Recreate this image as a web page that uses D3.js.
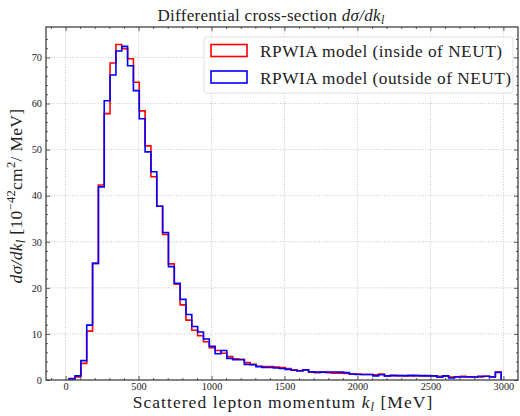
<!DOCTYPE html>
<html>
<head>
<meta charset="utf-8">
<script src="https://cdn.jsdelivr.net/npm/d3@7"></script>
<style>
  html, body { margin: 0; padding: 0; background: #fff; }
  svg { display: block; }
  text { font-family: "Liberation Serif", "DejaVu Serif", serif; fill: #222; }
</style>
</head>
<body>
<svg id="chart" width="520" height="416"></svg>
<script>
// Histogram bin edges of the scattered lepton momentum (MeV)
const binEdges = [
  25, 65, 105, 145, 185, 225, 265, 305, 345, 385,
  425, 465, 505, 545, 585, 625, 665, 705, 745, 785,
  825, 865, 905, 945, 985, 1025, 1065, 1105, 1145, 1185,
  1225, 1265, 1305, 1345, 1385, 1425, 1465, 1505, 1545, 1585,
  1625, 1665, 1705, 1745, 1785, 1825, 1865, 1905, 1945, 1985,
  2025, 2065, 2105, 2145, 2185, 2225, 2265, 2305, 2345, 2385,
  2425, 2465, 2505, 2545, 2585, 2625, 2665, 2705, 2745, 2785,
  2825, 2865, 2905, 2945, 2985
];

// dσ/dk_l per bin, 10^-42 cm^2 / MeV — RPWIA computed inside NEUT
const insideNeut = [
  0.2, 0.65, 3.6, 10.6, 25.3, 42.3, 57.8, 68.8, 72.8, 71.9,
  69.7, 64.6, 58.4, 50.8, 44.1, 37.7, 31.6, 25.2, 20.8, 16.3,
  13.0, 10.8, 9.6, 8.3, 7.0, 6.4, 5.8, 5.1, 4.6, 4.5,
  3.8, 3.4, 3.0, 2.9, 2.9, 2.8, 2.7, 2.5, 2.2, 1.95,
  2.2, 1.7, 1.6, 1.7, 1.6, 1.5, 1.45, 1.4, 1.3, 1.3,
  1.2, 1.2, 1.15, 1.3, 0.9, 1.0, 0.95, 0.9, 0.9, 0.95,
  0.9, 0.95, 0.9, 0.8, 0.8, 0.65, 0.7, 0.8, 0.7, 0.65,
  0.65, 0.8, 0.7, 1.75
];

// RPWIA computed outside NEUT
const outsideNeut = [
  0.3, 0.9, 4.2, 11.9, 25.3, 41.9, 60.6, 66.2, 71.4, 72.4,
  68.2, 62.8, 56.7, 49.5, 45.2, 37.7, 32.0, 24.6, 21.0, 17.5,
  14.2, 11.6, 10.4, 8.9, 7.3, 5.7, 6.4, 4.7, 4.4, 4.4,
  3.4, 3.3, 2.9, 2.7, 2.7, 2.6, 2.5, 2.3, 2.1, 2.0,
  2.2, 1.8, 1.7, 1.7, 1.75, 1.75, 1.7, 1.6, 1.3, 1.2,
  1.2, 1.2, 0.9, 1.15, 0.9, 0.95, 0.95, 0.95, 1.0, 0.95,
  0.95, 0.9, 0.9, 0.6, 0.9, 0.45, 0.65, 0.65, 0.65, 0.65,
  0.8, 0.8, 0.65, 1.65
];

const xTicks = [0, 500, 1000, 1500, 2000, 2500, 3000];
const yTicks = [0, 10, 20, 30, 40, 50, 60, 70];
const seriesNames = ["RPWIA model (inside of NEUT)", "RPWIA model (outside of NEUT)"];
const seriesColors = ["#ff0000", "#0000ff"];

const svg = d3.select("#chart");
const margin = { left: 46, right: 2, top: 27, bottom: 36 };
const W = 520, H = 416;
const x0 = margin.left, x1 = W - margin.right, y0 = H - margin.bottom, y1 = margin.top;

const x = d3.scaleLinear().domain([-134, 3100]).range([x0, x1]);
const y = d3.scaleLinear().domain([0, 76.6]).range([y0, y1]);

// grid
const grid = svg.append("g").attr("stroke", "#b8b8b8").attr("stroke-width", 0.8)
  .attr("stroke-dasharray", "1,1.6");
grid.selectAll("line.gx").data(xTicks).join("line")
  .attr("x1", d => x(d)).attr("x2", d => x(d)).attr("y1", y0).attr("y2", y1);
grid.selectAll("line.gy").data(yTicks.slice(1)).join("line")
  .attr("x1", x0).attr("x2", x1).attr("y1", d => y(d)).attr("y2", d => y(d));

// step histograms
function stepPoints(edges, vals) {
  const pts = [[edges[0], 0]];
  vals.forEach((v, i) => { pts.push([edges[i], v]); pts.push([edges[i + 1], v]); });
  pts.push([edges[edges.length - 1], 0]);
  return pts;
}
const line = d3.line().x(d => x(d[0])).y(d => y(d[1]));
[insideNeut, outsideNeut].forEach((vals, i) => {
  svg.append("path")
    .attr("d", line(stepPoints(binEdges, vals)))
    .attr("fill", "none")
    .attr("stroke", seriesColors[i])
    .attr("stroke-width", 1.6)
    .attr("stroke-linejoin", "miter");
});

// axes with inward ticks on all four sides
const minorX = d3.range(-100, 3100, 100).filter(v => v % 500 !== 0);
const minorY = d3.range(0, 76, 2).filter(v => v % 10 !== 0);
const fmt = d3.format("d");

svg.append("g").attr("transform", `translate(0,${y0})`)
  .call(d3.axisBottom(x).tickValues(xTicks).tickSize(-4).tickPadding(3).tickFormat(fmt));
svg.append("g").attr("transform", `translate(${x0},0)`)
  .call(d3.axisLeft(y).tickValues(yTicks).tickSize(-4).tickPadding(4).tickFormat(fmt));

// tick marks only (no labels)
function bareTicks(axis, tf) {
  const g = svg.append("g").attr("transform", tf).call(axis);
  g.selectAll("text").remove();
}
bareTicks(d3.axisTop(x).tickValues(xTicks).tickSize(-4), `translate(0,${y1})`);
bareTicks(d3.axisRight(y).tickValues(yTicks).tickSize(-4), `translate(${x1},0)`);
bareTicks(d3.axisBottom(x).tickValues(minorX).tickSize(-2), `translate(0,${y0})`);
bareTicks(d3.axisTop(x).tickValues(minorX).tickSize(-2), `translate(0,${y1})`);
bareTicks(d3.axisLeft(y).tickValues(minorY).tickSize(-2), `translate(${x0},0)`);
bareTicks(d3.axisRight(y).tickValues(minorY).tickSize(-2), `translate(${x1},0)`);

svg.selectAll(".domain").remove();
svg.selectAll(".tick line").attr("stroke", "#333").attr("stroke-width", 0.8);
svg.selectAll(".tick text").attr("font-family", "Liberation Serif, serif")
  .attr("font-size", 10.3).attr("fill", "#222");

// frame
svg.append("rect").attr("x", x0).attr("y", y1).attr("width", x1 - x0).attr("height", y0 - y1)
  .attr("fill", "none").attr("stroke", "#333").attr("stroke-width", 1.2);

// title
const title = svg.append("text").attr("x", 271).attr("y", 21)
  .attr("text-anchor", "middle").attr("font-size", 17).attr("letter-spacing", 0.3);
title.append("tspan").text("Differential cross-section ");
title.append("tspan").attr("font-style", "italic").text("dσ/dk");
title.append("tspan").attr("font-style", "italic").attr("font-size", 12).attr("dy", 3).text("l");

// x label
const xl = svg.append("text").attr("x", 283).attr("y", 408)
  .attr("text-anchor", "middle").attr("font-size", 17.5).attr("letter-spacing", 1.05);
xl.append("tspan").text("Scattered lepton momentum ");
xl.append("tspan").attr("font-style", "italic").text("k");
xl.append("tspan").attr("font-style", "italic").attr("font-size", 12.5).attr("dy", 3).text("l");
xl.append("tspan").attr("dy", -3).text(" [MeV]");

// y label
const yl = svg.append("text").attr("transform", `translate(22,${196}) rotate(-90)`)
  .attr("text-anchor", "middle").attr("font-size", 17.5).attr("letter-spacing", 0.3);
yl.append("tspan").attr("font-style", "italic").text("dσ/dk");
yl.append("tspan").attr("font-style", "italic").attr("font-size", 12.5).attr("dy", 3).text("l");
yl.append("tspan").attr("dy", -3).text(" [10");
yl.append("tspan").attr("font-size", 12.5).attr("dy", -7).text("−42");
yl.append("tspan").attr("dy", 7).text("cm");
yl.append("tspan").attr("font-size", 12.5).attr("dy", -7).text("2");
yl.append("tspan").attr("dy", 7).text("/ MeV]");

// legend
const lg = svg.append("g");
lg.append("rect").attr("x", 204).attr("y", 37).attr("width", 309).attr("height", 56)
  .attr("rx", 3).attr("fill", "#fff").attr("fill-opacity", 0.85)
  .attr("stroke", "#d8d8d8").attr("stroke-width", 0.8);
seriesNames.forEach((name, i) => {
  const yy = 44.5 + i * 26.5;
  lg.append("rect").attr("x", 211).attr("y", yy).attr("width", 36).attr("height", 12)
    .attr("fill", "none").attr("stroke", seriesColors[i]).attr("stroke-width", 1.6);
  lg.append("text").attr("x", 260).attr("y", yy + 12.5).attr("font-size", 17.3)
    .attr("letter-spacing", 0.5).text(name);
});
</script>
</body>
</html>
